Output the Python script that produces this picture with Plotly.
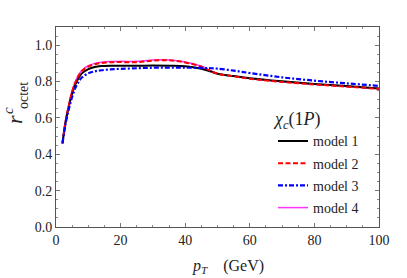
import plotly.graph_objects as go

pt = [2, 3, 4, 5, 6, 7, 8, 10, 12, 14, 17, 20, 25, 30, 35, 40, 45, 48, 50, 55, 60, 70, 80, 90, 100]
model1 = [0.46, 0.58, 0.665, 0.735, 0.785, 0.82, 0.845, 0.868, 0.88, 0.885, 0.887, 0.887, 0.887, 0.888, 0.887, 0.884, 0.87, 0.855, 0.843, 0.83, 0.818, 0.801, 0.787, 0.775, 0.762]
model2 = [0.46, 0.585, 0.67, 0.745, 0.795, 0.832, 0.858, 0.882, 0.895, 0.902, 0.906, 0.907, 0.906, 0.915, 0.917, 0.905, 0.882, 0.857, 0.843, 0.829, 0.816, 0.798, 0.784, 0.772, 0.760]
model3 = [0.46, 0.57, 0.65, 0.715, 0.765, 0.798, 0.822, 0.845, 0.856, 0.862, 0.867, 0.87, 0.873, 0.876, 0.876, 0.876, 0.875, 0.873, 0.871, 0.86, 0.847, 0.823, 0.805, 0.79, 0.776]
model4 = [0.46, 0.59, 0.675, 0.75, 0.8, 0.836, 0.862, 0.887, 0.9, 0.906, 0.91, 0.911, 0.911, 0.918, 0.919, 0.908, 0.884, 0.858, 0.845, 0.83, 0.817, 0.799, 0.785, 0.773, 0.761]
names = ["model 1", "model 2", "model 3", "model 4"]
x_ticks = [0, 20, 40, 60, 80, 100]
y_ticks = [0.0, 0.2, 0.4, 0.6, 0.8, 1.0]

FONT = "Liberation Serif, Times New Roman, serif"
W, H = 407, 278
L, R, T, B = 56, 28, 27, 51
pw, ph = W - L - R, H - T - B


def px(x):
    return (x - L) / pw


def py(y):
    return (H - B - y) / ph


fig = go.Figure()
fig.add_trace(go.Scatter(x=pt, y=model4, name=names[3], mode="lines", legendrank=4,
                         legendgroup="g4",
                         line=dict(color="#ff33ff", width=1.5, shape="spline")))
fig.add_trace(go.Scatter(x=pt, y=model1, name=names[0], mode="lines", legendrank=1,
                         legendgroup="g1",
                         line=dict(color="black", width=2, shape="spline")))
fig.add_trace(go.Scatter(x=pt, y=model2, name=names[1], mode="lines", legendrank=2,
                         legendgroup="g2",
                         line=dict(color="#ff0000", width=2, dash="5px,2.5px", shape="spline")))
fig.add_trace(go.Scatter(x=pt, y=model3, name=names[2], mode="lines", legendrank=3,
                         legendgroup="g3",
                         line=dict(color="#0000ff", width=2.2, dash="5px,2px,2px,2px", shape="spline")))

axis_common = dict(
    showgrid=False, zeroline=False, showline=True, linecolor="#555", linewidth=1,
    mirror="allticks", ticks="inside", ticklen=4, tickcolor="#777", tickwidth=1,
    tickfont=dict(family=FONT, size=14, color="#222"),
)
fig.update_xaxes(range=[0, 100], tickvals=x_ticks, ticktext=[str(v) for v in x_ticks],
                 minor=dict(dtick=5, ticks="inside", ticklen=2, tickcolor="#888"),
                 **axis_common)
fig.update_yaxes(range=[0, 1.1], tickvals=y_ticks, ticktext=["%.1f" % v for v in y_ticks],
                 minor=dict(dtick=0.05, ticks="inside", ticklen=2, tickcolor="#888"),
                 **axis_common)

annotations = [
    dict(text="<i>p<sub>T</sub></i>\u00a0\u00a0\u00a0\u00a0(GeV)", x=px(228), y=py(266),
         xref="paper", yref="paper", showarrow=False, xanchor="center", yanchor="middle",
         font=dict(family=FONT, size=16, color="#222")),
    dict(text="<i>r</i>", x=px(14), y=py(120), xref="paper", yref="paper", showarrow=False,
         textangle=-90, xanchor="center", yanchor="middle",
         font=dict(family=FONT, size=22, color="#222")),
    dict(text="<i>c</i>", x=px(8), y=py(111), xref="paper", yref="paper", showarrow=False,
         textangle=-90, xanchor="center", yanchor="middle",
         font=dict(family=FONT, size=15, color="#222")),
    dict(text="octet", x=px(23), y=py(96), xref="paper", yref="paper", showarrow=False,
         textangle=-90, xanchor="center", yanchor="middle",
         font=dict(family=FONT, size=14, color="#222")),
]

fig.update_layout(
    width=W, height=H,
    margin=dict(l=L, r=R, t=T, b=B, pad=0),
    paper_bgcolor="white", plot_bgcolor="white",
    font=dict(family=FONT, color="#222"),
    annotations=annotations,
    legend=dict(
        x=px(273), y=py(102), xanchor="left", yanchor="top",
        bgcolor="rgba(0,0,0,0)", tracegroupgap=1,
        font=dict(family=FONT, size=14, color="#222"),
        title=dict(text="<i>\u03c7<sub>c</sub></i>(1<i>P</i>)",
                   font=dict(family=FONT, size=18, color="#222")),
    ),
)

fig.write_html("out.html", config={"displayModeBar": False},
               post_script="document.body.style.margin='0';document.body.style.padding='0';")
